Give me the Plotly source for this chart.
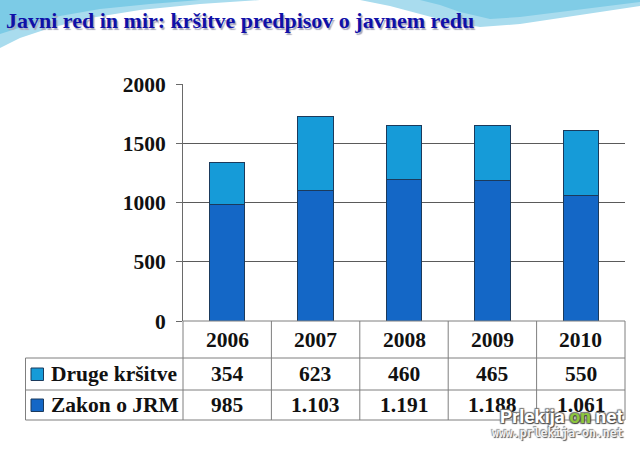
import plotly.graph_objects as go

# ---- data ----
years = ["2006", "2007", "2008", "2009", "2010"]
zakon_jrm = [985, 1103, 1191, 1188, 1061]
druge_krsitve = [354, 623, 460, 465, 550]
zakon_labels = ["985", "1.103", "1.191", "1.188", "1.061"]
druge_labels = ["354", "623", "460", "465", "550"]
series_names = ["Druge kršitve", "Zakon o JRM"]
y_ticks = [0, 500, 1000, 1500, 2000]
title_text = "Javni red in mir: kršitve predpisov o javnem redu"

# ---- style ----
W, H = 640, 451
L, R, T, B = 183, 15, 84, 130
PW, PH = W - L - R, H - T - B
DARK = "#1467c6"
LIGHT = "#169bd8"
EDGE = "#1b3a5c"
GRID = "#5a5a5a"
TLINE = "#7f7f7f"
SERIF = "Liberation Serif"
FS = 21.5


def px(x):
    return (x - L) / PW


def py(y):
    return (H - B - y) / PH


fig = go.Figure()
fig.add_trace(go.Bar(x=years, y=zakon_jrm, name=series_names[1], width=0.4,
                     marker=dict(color=DARK, line=dict(color=EDGE, width=1))))
fig.add_trace(go.Bar(x=years, y=druge_krsitve, name=series_names[0], width=0.4,
                     marker=dict(color=LIGHT, line=dict(color=EDGE, width=1))))

shapes = []


def path(points):
    return "M " + " L ".join(f"{px(a):.4f},{py(b):.4f}" for a, b in points) + " Z"


left_outer = [(0, 0), (260, 0), (200, 4), (140, 10), (90, 18), (50, 28), (20, 38), (0, 48)]
left_inner = [(0, 0), (200, 0), (150, 4), (100, 9), (60, 16), (25, 26), (0, 34)]
right_outer = [(360, 0), (640, 0), (640, 6), (600, 12), (560, 18), (520, 24), (480, 27), (450, 22), (420, 14), (390, 6)]
right_inner = [(420, 0), (640, 0), (640, 2), (600, 7), (560, 12), (520, 17), (490, 19), (460, 12), (440, 5)]
for pts, col in [(left_outer, "#a9dcee"), (left_inner, "#7ccbe6"),
                 (right_outer, "#a9dcee"), (right_inner, "#80cce6")]:
    shapes.append(dict(type="path", xref="paper", yref="paper", path=path(pts),
                       fillcolor=col, line=dict(width=0), layer="below"))

# table grid
n = len(years)
colw = PW / n
col_x = [L + k * colw for k in range(n + 1)]
row_y = [H - B, 358, 390, 420]
left_x = 25.5
for xx in col_x:
    shapes.append(dict(type="line", xref="paper", yref="paper", x0=px(xx), x1=px(xx),
                       y0=py(row_y[0]), y1=py(row_y[3]), line=dict(color=TLINE, width=1)))
shapes.append(dict(type="line", xref="paper", yref="paper", x0=px(left_x), x1=px(left_x),
                   y0=py(row_y[1]), y1=py(row_y[3]), line=dict(color=TLINE, width=1)))
shapes.append(dict(type="line", xref="paper", yref="paper", x0=px(L), x1=px(W - R),
                   y0=py(row_y[0]), y1=py(row_y[0]), line=dict(color=TLINE, width=1)))
for yy in row_y[1:]:
    shapes.append(dict(type="line", xref="paper", yref="paper", x0=px(left_x), x1=px(W - R),
                       y0=py(yy), y1=py(yy), line=dict(color=TLINE, width=1)))
row_c = [(row_y[i] + row_y[i + 1]) / 2 for i in range(3)]
for (yc, col) in [(row_c[1], LIGHT), (row_c[2], DARK)]:
    shapes.append(dict(type="rect", xref="paper", yref="paper", x0=px(31), x1=px(43.5),
                       y0=py(yc + 6.5), y1=py(yc - 6), fillcolor=col,
                       line=dict(color=EDGE, width=1)))

annotations = []
tfont = dict(family=SERIF, size=FS, color="#111111", weight="bold")
for i, yr in enumerate(years):
    for txt, yc in [(yr, row_c[0]), (druge_labels[i], row_c[1]), (zakon_labels[i], row_c[2])]:
        annotations.append(dict(x=i, xref="x", y=py(yc), yref="paper", text=txt,
                                showarrow=False, font=tfont, xanchor="center", yanchor="middle"))
for name, yc in [(series_names[0], row_c[1]), (series_names[1], row_c[2])]:
    annotations.append(dict(x=px(49), xref="paper", y=py(yc), yref="paper", text=name,
                            showarrow=False, font=tfont, xanchor="left", yanchor="middle"))

# title with soft shadow
annotations.append(dict(x=px(4), xref="paper", y=py(21), yref="paper", text=title_text,
                        showarrow=False, xanchor="left", yanchor="middle",
                        font=dict(family=SERIF, size=22, color="#1010a8", weight="bold",
                                  shadow="1.5px 1.5px 1px #a8a8bc")))

# watermark
annotations.append(dict(x=px(626), xref="paper", y=py(416), yref="paper",
                        text="Prlekija <span style='color:#8cc63e'>on</span> net",
                        showarrow=False, xanchor="right", yanchor="middle",
                        font=dict(family="Roboto", size=19, color="white", weight="bold",
                                  shadow="1px 1px 1px #444, -1px -1px 1px #777, 1px -1px 1px #777, -1px 1px 1px #777")))
annotations.append(dict(x=px(626), xref="paper", y=py(433), yref="paper",
                        text="www.prlekija-on.net",
                        showarrow=False, xanchor="right", yanchor="middle",
                        font=dict(family="DejaVu Sans Mono", size=11.5, color="#f0f0f0", weight="bold",
                                  shadow="1px 1px 1px #555, -1px -1px 1px #888")))

fig.update_layout(
    width=W, height=H,
    margin=dict(l=L, r=R, t=T, b=B, pad=0),
    barmode="stack",
    showlegend=False,
    paper_bgcolor="white",
    plot_bgcolor="rgba(0,0,0,0)",
    shapes=shapes,
    annotations=annotations,
    xaxis=dict(type="category", range=[-0.5, n - 0.5], showticklabels=False,
               showgrid=False, zeroline=False, showline=False, ticks=""),
    yaxis=dict(range=[0, 2000], tickvals=y_ticks, showgrid=True, gridcolor=GRID, gridwidth=1,
               zeroline=False, showline=True, linecolor="#6a6a6a", linewidth=1,
               ticks="outside", ticklen=6, tickcolor="#6a6a6a",
               tickfont=dict(family=SERIF, size=FS, color="#111111", weight="bold"),
               ticklabelstandoff=6),
)

fig.write_html("out.html", config={"displayModeBar": False},
               post_script="document.body.style.margin='0';document.body.style.overflow='hidden';")
